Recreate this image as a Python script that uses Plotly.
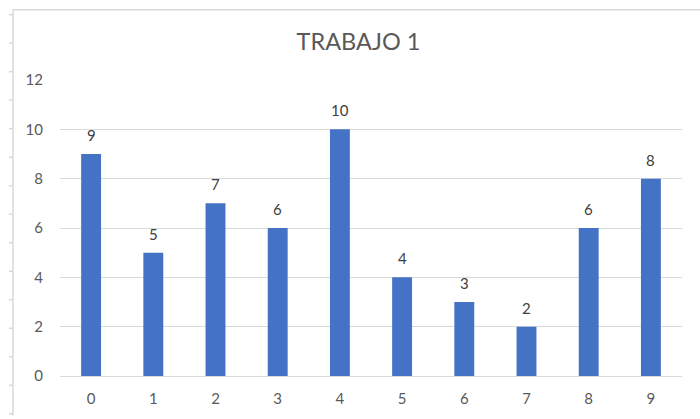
import plotly.graph_objects as go

# Chart data
categories = ["0", "1", "2", "3", "4", "5", "6", "7", "8", "9"]
values = [9, 5, 7, 6, 10, 4, 3, 2, 6, 8]
y_ticks = [0, 2, 4, 6, 8, 10, 12]
title_text = "TRABAJO 1"

W, H = 700, 419
M_L, M_R, M_T, M_B = 60, 18, 80, 40
PLOT_W = W - M_L - M_R
PLOT_H = H - M_T - M_B

BAR_COLOR = "#4472c4"
GRID_COLOR = "#d9d9d9"
TEXT_COLOR = "#595959"
LABEL_COLOR = "#404040"
FONT = "Lato, 'Open Sans', sans-serif"


def px_x(px):
    return (px - M_L) / PLOT_W


def px_y(py):
    return (H - M_B - py) / PLOT_H


fig = go.Figure(
    go.Bar(
        x=categories,
        y=values,
        marker=dict(color=BAR_COLOR, line=dict(width=0)),
        hoverinfo="x+y",
    )
)

# value labels above each bar
annotations = [
    dict(
        x=c, y=v, xref="x", yref="y", text=str(v), showarrow=False,
        yanchor="bottom", yshift=8,
        font=dict(family=FONT, size=15, color=LABEL_COLOR),
    )
    for c, v in zip(categories, values)
]

# surrounding frame: top edge, left edge and the small row ticks on the left
frame_color = "#d9d9d9"
shapes = [
    dict(type="line", xref="paper", yref="paper",
         x0=px_x(13), x1=px_x(700), y0=px_y(9), y1=px_y(9),
         line=dict(color=frame_color, width=1.5)),
    dict(type="line", xref="paper", yref="paper",
         x0=px_x(13), x1=px_x(13), y0=px_y(9), y1=px_y(419),
         line=dict(color=frame_color, width=1.5)),
]
for k in range(15):
    ty = 14 + 28.8 * k
    shapes.append(dict(type="line", xref="paper", yref="paper",
                       x0=px_x(9), x1=px_x(13), y0=px_y(ty), y1=px_y(ty),
                       line=dict(color=frame_color, width=1.5)))

fig.update_layout(
    width=W, height=H,
    margin=dict(l=M_L, r=M_R, t=M_T, b=M_B, pad=0),
    paper_bgcolor="white", plot_bgcolor="white",
    bargap=0.68,
    showlegend=False,
    title=dict(text=title_text, x=358.5 / W, xref="container", xanchor="center",
               y=1 - 42 / H, yref="container", yanchor="middle",
               font=dict(family=FONT, size=23.5, color=TEXT_COLOR)),
    xaxis=dict(
        showgrid=False, showline=True, linecolor=GRID_COLOR, linewidth=1,
        ticks="", tickfont=dict(family=FONT, size=15, color=TEXT_COLOR),
        ticklabelstandoff=9,
    ),
    yaxis=dict(
        range=[0, 12], tickvals=y_ticks, showgrid=True, gridcolor=GRID_COLOR,
        gridwidth=1, zeroline=False, showline=False, ticks="",
        tickfont=dict(family=FONT, size=15, color=TEXT_COLOR),
        ticklabelstandoff=16,
    ),
    annotations=annotations,
    shapes=shapes,
)

fig.write_html("out.html")
